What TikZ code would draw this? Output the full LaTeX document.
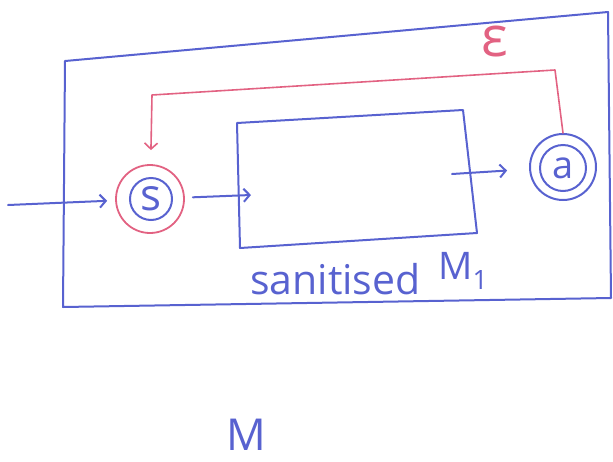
\documentclass[tikz,border=0pt]{standalone}
\usepackage{fontspec}
\setmainfont{Open Sans}
\usetikzlibrary{arrows.meta}
\definecolor{pen}{RGB}{88,98,208}
\definecolor{redpen}{RGB}{226,98,130}

\begin{document}
\begin{tikzpicture}[x=1pt,y=-1pt,
  penline/.style={draw=pen, line width=2pt, line cap=round, line join=round},
  redline/.style={draw=redpen, line width=1.6pt, line cap=round, line join=round},
  tip/.style={-{Straight Barb[length=6pt,width=13pt]}},
  lbl/.style={text=pen, inner sep=0pt},
  ring/.style={circle, draw=pen, line width=2pt, inner sep=0pt},
]
\useasboundingbox (0,0) rectangle (613,461);

% outer machine M
\draw[penline] (65,61) -- (608,12) -- (611,298) -- (63,307) -- cycle;
% inner box: the sanitised machine
\draw[penline] (237,123) -- (463,110) -- (477,233) -- (240,248) -- cycle;

% start state s, ringed in red
\node[ring, minimum size=42pt, lbl, font=\fontsize{44}{44}\selectfont] (s) at (151,199) {s};
\node[circle, draw=redpen, line width=1.8pt, minimum size=68pt] (sr) at (150,199) {};

% accepting state a (double ring)
\node[ring, minimum size=46pt, lbl, font=\fontsize{38}{38}\selectfont] (a) at (563,168) {a};
\node[ring, minimum size=66pt] (ar) at (563,167) {};

% free ends of the connectors
\coordinate (in) at (8,205);
\coordinate (boxin) at (251,195);
\coordinate (boxout) at (452,174);
\coordinate (r1) at (555,70);
\coordinate (r2) at (152,95);

% connectors
\draw[penline, tip, shorten >=8pt] (in) -- (sr);
\draw[penline, tip, shorten <=8pt] (sr) -- (boxin);
\draw[penline, tip, shorten >=22pt] (boxout) -- (ar);
\draw[redline, tip, shorten >=14pt] (ar.north) -- (r1) -- (r2) -- (sr);

% labels
\node[text=redpen, inner sep=0pt, font=\fontsize{56}{56}\selectfont] (eps) at (495,42) {ε};
\node[lbl, anchor=base west, font=\fontsize{41}{41}\selectfont] (lab) at (250,294) {sanitised};
\node[lbl, anchor=base west, font=\fontsize{38}{38}\selectfont] (m1) at (438,279) {M\textsubscript{1}};
\node[lbl, anchor=base, font=\fontsize{44}{44}\selectfont] (mm) at (246,450) {M};
\end{tikzpicture}
\end{document}
